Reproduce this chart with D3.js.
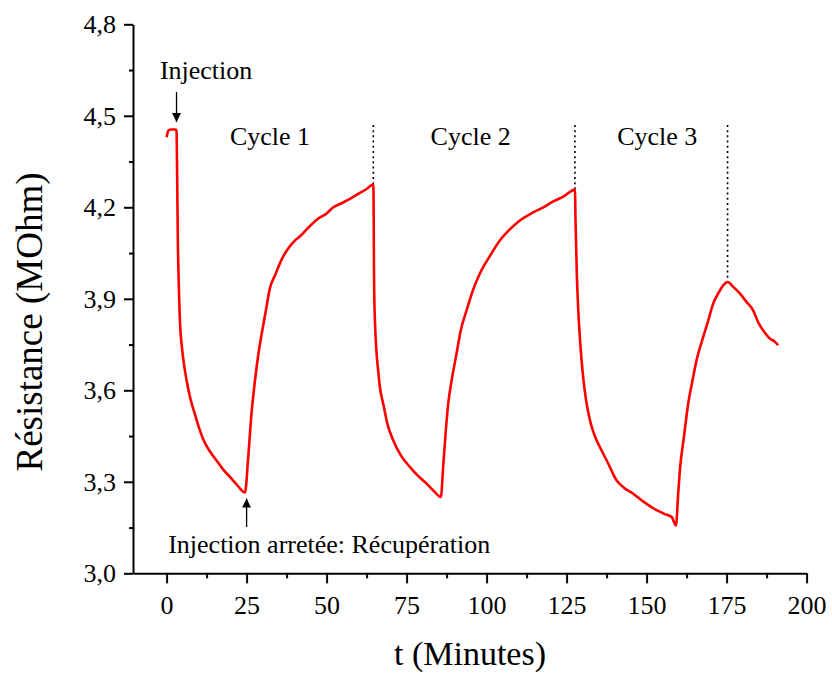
<!DOCTYPE html>
<html>
<head>
<meta charset="utf-8">
<script src="https://cdn.jsdelivr.net/npm/d3@7"></script>
<style>
  body { margin: 0; background: #fff; }
</style>
</head>
<body>
<div id="chart"></div>
<script>
// time (minutes) and resistance (MOhm)
var times = [0, 0.6, 1.5, 2.8, 3.1,
  3.3, 3.5, 3.8, 4.2, 4.8, 5.5, 6.3, 7.5, 8.9, 10.2, 11.4, 13.5, 15.6, 17.7, 19.8, 22, 24.5,
  25.5, 26.5, 27.6, 28.7, 29.8, 31, 32.3, 34, 36, 38, 40, 41.7, 44, 47, 50, 52.1, 55, 57.3, 60, 62.5, 64.6,
  64.7, 64.8, 64.9, 65.1, 65.5, 66.1, 66.8, 67.7, 69, 70.8, 73, 76, 78.5, 81.25, 83.5, 85.7,
  86.5, 87.2, 88, 89.2, 90.6, 92, 93.75, 95.8, 97.9, 101, 104.2, 107, 110.4, 114, 117.7, 121, 124, 127.6,
  127.8, 128.2, 128.6, 129.3, 130.2, 131.2, 132.3, 133.8, 135.4, 138, 140.6, 143, 145.8, 149, 153.1, 155.5, 157.8, 159.2,
  159.8, 160.4, 161.7, 163, 164.3, 165.6, 167.7, 169.3, 170.8, 172.5, 174, 175.3, 177, 179.2, 181.2, 183.3, 185, 186.4, 188.5, 190, 191.1];
var resistance = [4.43, 4.452, 4.455, 4.455, 4.45,
  4.30, 4.10, 3.95, 3.82, 3.74, 3.68, 3.63, 3.57, 3.52, 3.475, 3.44, 3.40, 3.37, 3.34, 3.316, 3.29, 3.265,
  3.38, 3.52, 3.63, 3.72, 3.79, 3.86, 3.935, 3.98, 4.03, 4.065, 4.09, 4.105, 4.13, 4.16, 4.18, 4.20, 4.215, 4.228, 4.245, 4.26, 4.275,
  4.20, 4.0, 3.91, 3.83, 3.74, 3.666, 3.60, 3.556, 3.49, 3.436, 3.39, 3.349, 3.32, 3.294, 3.27, 3.25,
  3.36, 3.46, 3.556, 3.64, 3.72, 3.80, 3.862, 3.93, 3.983, 4.04, 4.092, 4.125, 4.157, 4.18, 4.20, 4.22, 4.235, 4.258,
  4.15, 3.98, 3.873, 3.75, 3.64, 3.56, 3.502, 3.45, 3.414, 3.36, 3.305, 3.28, 3.261, 3.235, 3.207, 3.195, 3.185, 3.157,
  3.25, 3.338, 3.45, 3.556, 3.63, 3.698, 3.775, 3.83, 3.884, 3.92, 3.945, 3.955, 3.94, 3.917, 3.89, 3.862, 3.82, 3.797, 3.77, 3.76, 3.748];

var xTicks = [0, 25, 50, 75, 100, 125, 150, 175, 200];
var xMinorTicks = [12.5, 37.5, 62.5, 87.5, 112.5, 137.5, 162.5, 187.5];
var yTicks = [3.0, 3.3, 3.6, 3.9, 4.2, 4.5, 4.8];
var yMinorTicks = [3.15, 3.45, 3.75, 4.05, 4.35, 4.65];

// end of each cycle (dotted markers)
var cycleEnds = [64.6, 127.6, 175.3];
var cycleEndValues = [4.275, 4.258, 3.955];
var cycleNames = ["Cycle 1", "Cycle 2", "Cycle 3"];
var cycleLabelTimes = [19.8, 82.5, 140.8];

var width = 832, height = 675;
var serif = "'Liberation Serif', 'Times New Roman', 'DejaVu Serif', serif";

var svg = d3.select("#chart").append("svg")
  .attr("width", width)
  .attr("height", height)
  .attr("font-family", serif);

var x = d3.scaleLinear().domain([-10.5, 200]).range([133, 806.6]);
var y = d3.scaleLinear().domain([3.0, 4.8]).range([573.3, 24.3]);

var comma = function(d) { return d3.format(".1f")(d).replace(".", ","); };

// axes
svg.append("g")
  .attr("transform", "translate(0," + y(3.0) + ")")
  .call(d3.axisBottom(x).tickValues(xTicks).tickSize(10).tickSizeOuter(0).tickPadding(12));
svg.append("g")
  .attr("transform", "translate(0," + y(3.0) + ")")
  .call(d3.axisBottom(x).tickValues(xMinorTicks).tickSize(5).tickFormat(""))
  .select(".domain").remove();

svg.append("g")
  .attr("transform", "translate(" + x(-10.5) + ",0)")
  .call(d3.axisLeft(y).tickValues(yTicks).tickSize(9).tickSizeOuter(0).tickPadding(8).tickFormat(comma));
svg.append("g")
  .attr("transform", "translate(" + x(-10.5) + ",0)")
  .call(d3.axisLeft(y).tickValues(yMinorTicks).tickSize(4).tickFormat(""))
  .select(".domain").remove();

svg.selectAll("g").attr("font-family", serif);
svg.selectAll(".domain").attr("stroke", "#000").attr("stroke-width", 2);
svg.selectAll(".tick line").attr("stroke", "#000").attr("stroke-width", 2);
svg.selectAll(".tick text")
  .attr("fill", "#000")
  .attr("font-family", serif)
  .attr("font-size", 26);

// axis titles
svg.append("text")
  .attr("x", 470).attr("y", 665)
  .attr("text-anchor", "middle")
  .attr("font-size", 34)
  .text("t (Minutes)");

svg.append("text")
  .attr("transform", "translate(42,322) rotate(-90)")
  .attr("text-anchor", "middle")
  .attr("font-size", 37)
  .text("Résistance (MOhm)");

// dotted lines at the end of each cycle
svg.selectAll("line.cycle-end")
  .data(cycleEnds)
  .enter().append("line")
  .attr("class", "cycle-end")
  .attr("x1", function(d) { return x(d); })
  .attr("x2", function(d) { return x(d); })
  .attr("y1", y(4.47))
  .attr("y2", function(d, i) { return y(cycleEndValues[i]); })
  .attr("stroke", "#000")
  .attr("stroke-width", 1.6)
  .attr("stroke-dasharray", "2,3.2");

// the curve
var points = times.map(function(t, i) { return [t, resistance[i]]; });
var line = d3.line()
  .curve(d3.curveMonotoneX)
  .x(function(d) { return x(d[0]); })
  .y(function(d) { return y(d[1]); });

svg.append("path")
  .datum(points)
  .attr("fill", "none")
  .attr("stroke", "#ff0000")
  .attr("stroke-width", 2.6)
  .attr("stroke-linejoin", "round")
  .attr("d", line);

// cycle labels
svg.selectAll("text.cycle")
  .data(cycleNames)
  .enter().append("text")
  .attr("class", "cycle")
  .attr("x", function(d, i) { return x(cycleLabelTimes[i]); })
  .attr("y", y(4.405))
  .attr("font-size", 26)
  .text(function(d) { return d; });

// arrows
var defs = svg.append("defs");
defs.append("marker")
  .attr("id", "head")
  .attr("viewBox", "0 0 10 10")
  .attr("refX", 10).attr("refY", 5)
  .attr("markerWidth", 14).attr("markerHeight", 9)
  .attr("markerUnits", "userSpaceOnUse")
  .attr("orient", "auto")
  .append("path")
  .attr("d", "M0,0 L10,5 L0,10 Z")
  .attr("fill", "#000");

svg.append("line")
  .attr("x1", x(3.1)).attr("x2", x(3.1))
  .attr("y1", y(4.578)).attr("y2", y(4.48))
  .attr("stroke", "#000").attr("stroke-width", 1.3)
  .attr("marker-end", "url(#head)");

svg.append("line")
  .attr("x1", x(25)).attr("x2", x(25))
  .attr("y1", y(3.152)).attr("y2", y(3.245))
  .attr("stroke", "#000").attr("stroke-width", 1.3)
  .attr("marker-end", "url(#head)");

svg.append("text")
  .attr("x", x(-2.1)).attr("y", y(4.622))
  .attr("font-size", 26)
  .text("Injection");

svg.append("text")
  .attr("x", x(0.5)).attr("y", y(3.065))
  .attr("font-size", 26)
  .text("Injection arretée: Récupération");
</script>
</body>
</html>
